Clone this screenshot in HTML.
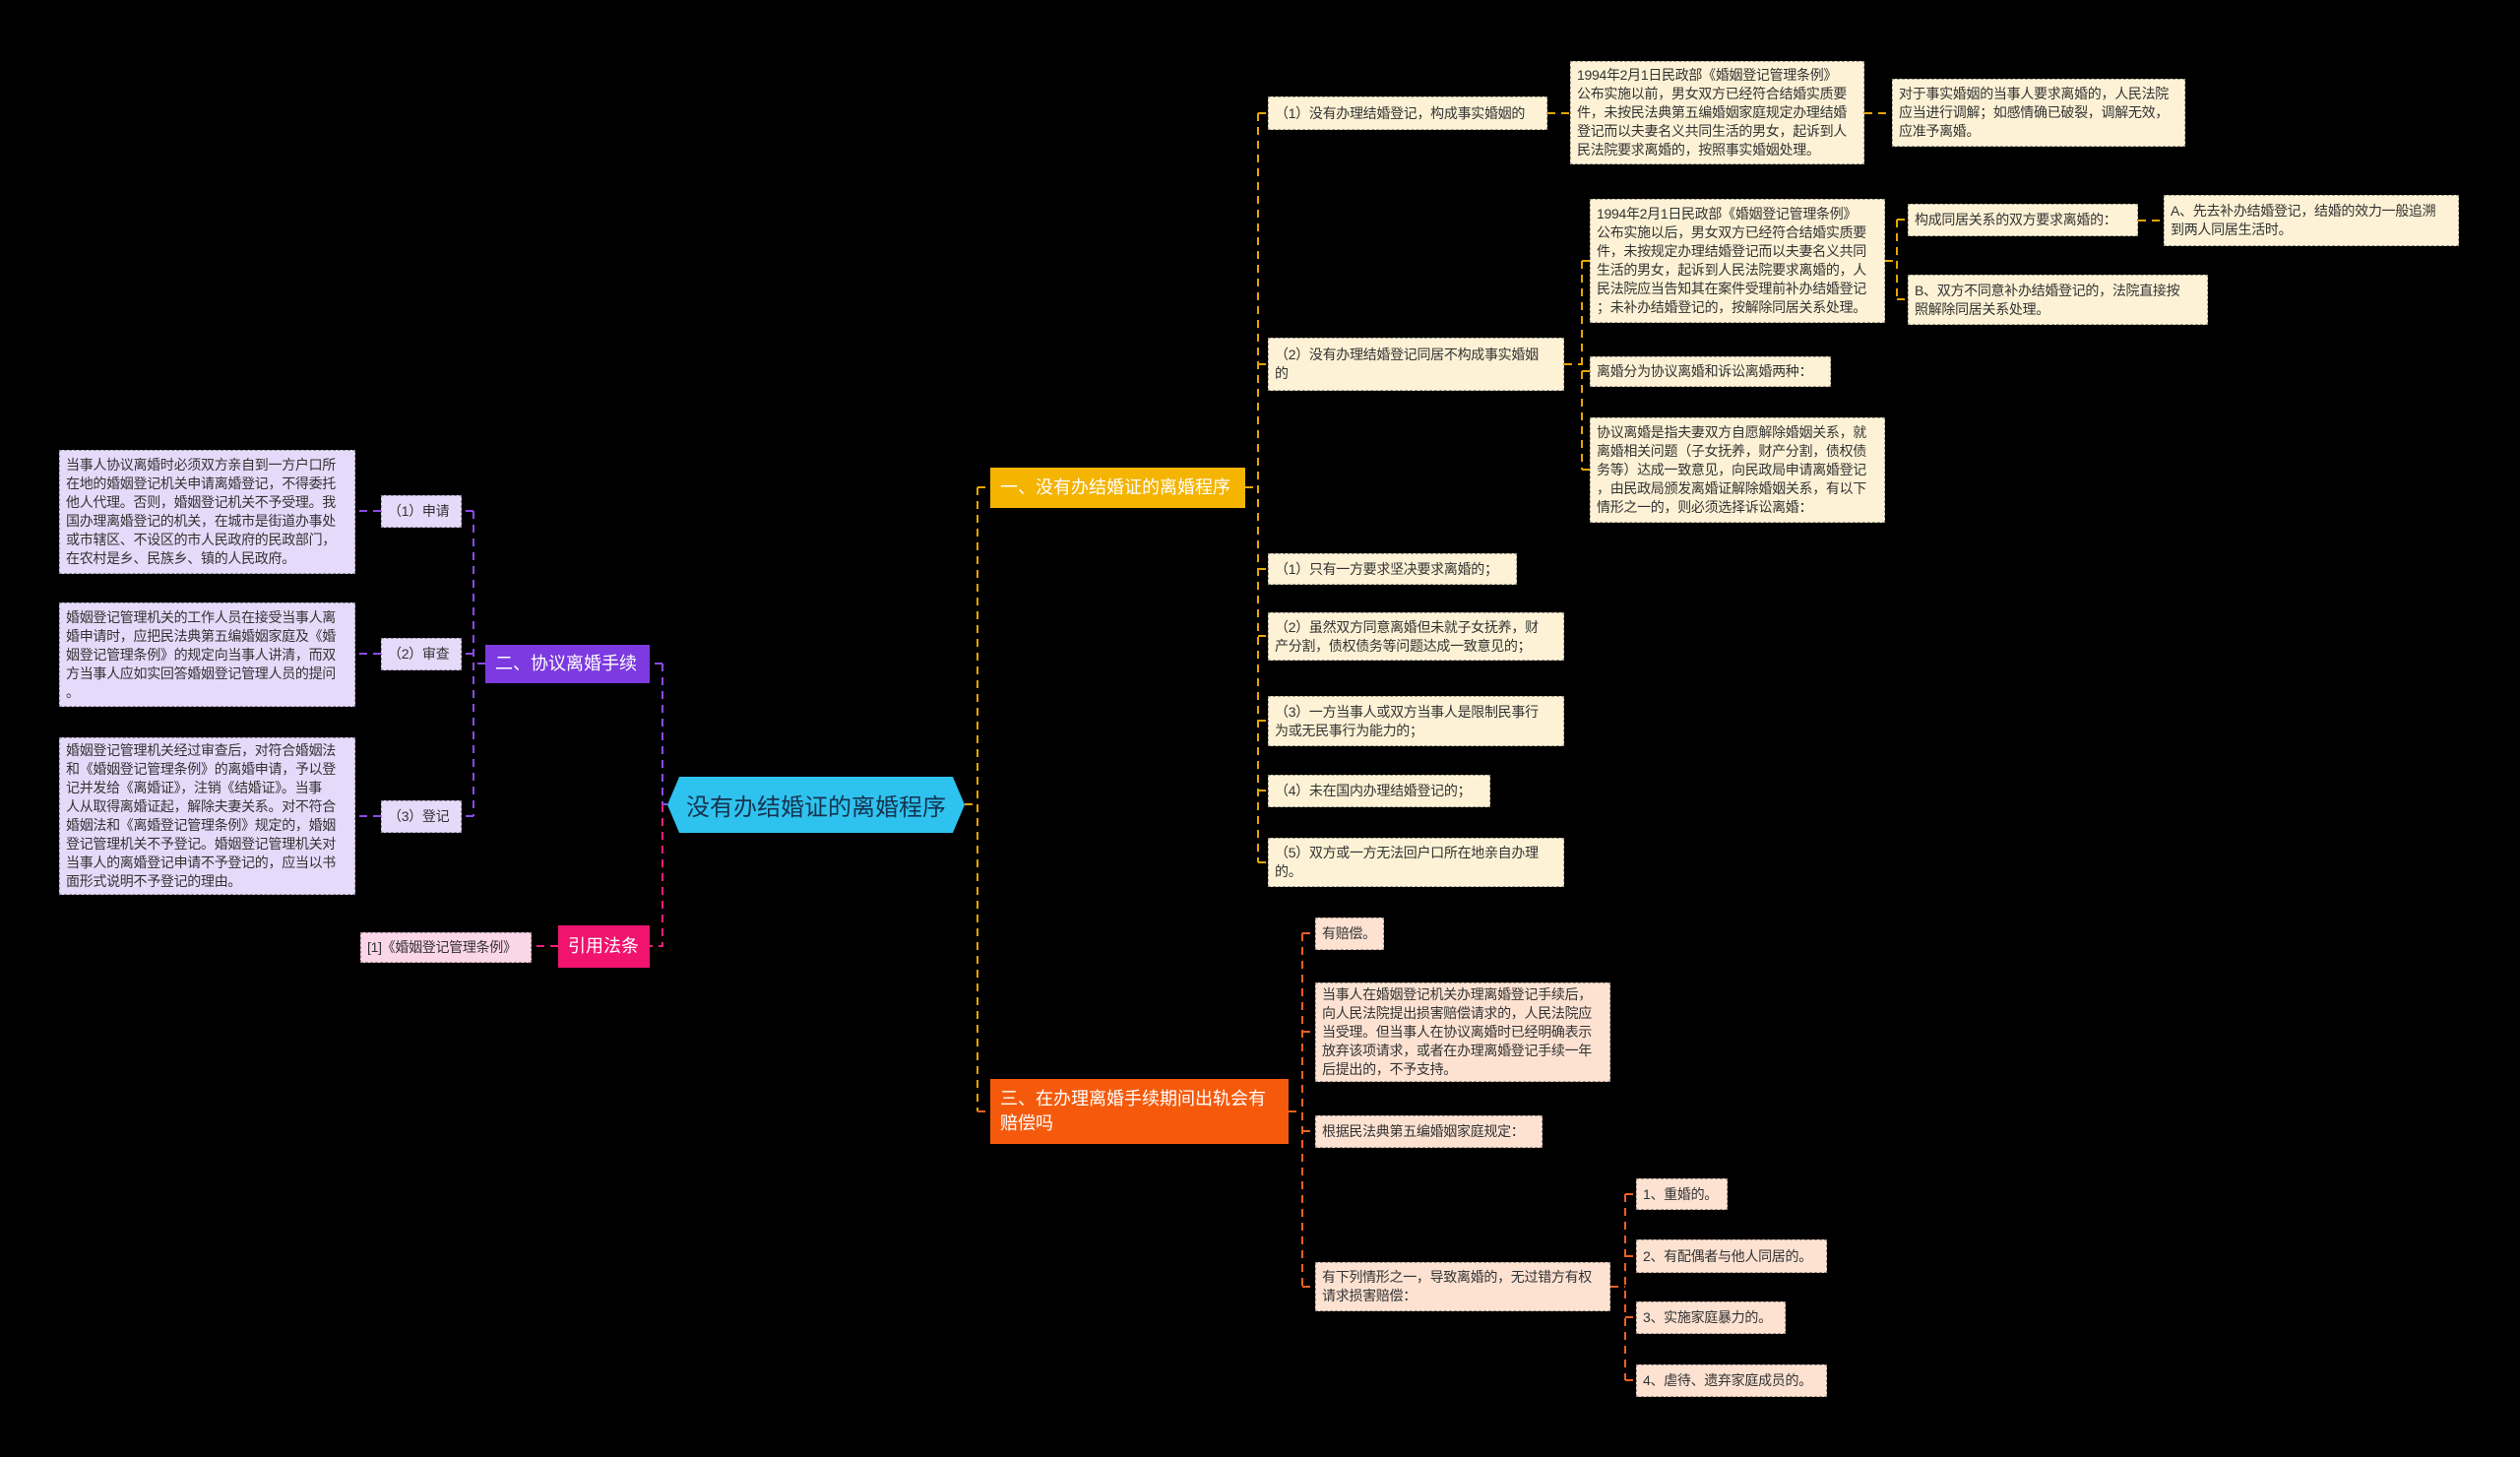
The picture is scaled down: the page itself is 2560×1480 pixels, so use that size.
<!DOCTYPE html>
<html><head><meta charset="utf-8"><style>
*{margin:0;padding:0;box-sizing:border-box}
body{width:2560px;height:1480px;background:#000;position:relative;overflow:hidden;font-family:"Liberation Sans","Noto Sans CJK SC",sans-serif}
.b{position:absolute;font-size:14px;line-height:19px;color:#333;padding:4px 6px;white-space:nowrap;display:flex;flex-direction:column;justify-content:center;border:1.5px dashed rgba(0,0,0,0.35);overflow:hidden;letter-spacing:-0.3px}
.y{background:#fdf2d5}
.p{background:#e6dafa}
.k{background:#fbd6e6}
.o{background:#fde2d2}
.m{position:absolute;color:#fff;font-size:18px;line-height:25px;padding:4px 10px;display:flex;flex-direction:column;justify-content:center;white-space:nowrap;overflow:hidden}
svg{position:absolute;left:0;top:0}
</style></head><body>
<svg width="2560" height="1480" fill="none" stroke-width="2" stroke-dasharray="8,6">
<g stroke="#e6a500">
<path d="M980 817H993M993 495V1129M993 495H1006"/>
<path d="M1265 495H1278M1278 115V876M1278 115H1288M1278 370H1288M1278 578H1288M1278 646H1288M1278 732H1288M1278 803H1288M1278 876H1288"/>
<path d="M1572 115H1595M1894 115H1922"/>
<path d="M1589 370H1607M1607 265V477M1607 265H1615M1607 377H1615M1607 477H1615"/>
<path d="M1915 265H1927M1927 223V304M1927 223H1938M1927 304H1938M2172 224H2198"/>
</g>
<g stroke="#f06020">
<path d="M993 1129H1006M1309 1129H1323M1323 948V1307M1323 948H1336M1323 1048H1336M1323 1149H1336M1323 1307H1336"/>
<path d="M1636 1307H1651M1651 1213V1402M1651 1213H1662M1651 1276H1662M1651 1338H1662M1651 1402H1662"/>
</g>
<g stroke="#8a4ae8">
<path d="M678 817H673M673 674V817M673 674H660"/>
<path d="M493 674H481M481 519V829M481 519H469M481 664H469M481 829H469M387 519H361M387 664H361M387 829H361"/>
</g>
<g stroke="#e8207a">
<path d="M673 817V961H660M567 961H540"/>
</g>
</svg>

<div style="position:absolute;left:678px;top:789px;width:302px;height:57px;background:#2ec3ef;clip-path:polygon(4% 0,96% 0,100% 50%,96% 100%,4% 100%,0 50%);display:flex;align-items:center;justify-content:center;font-size:24px;color:#16334f">没有办结婚证的离婚程序</div>

<div class="m" style="left:1006px;top:475px;width:259px;height:41px;background:#f5b400;color:#fff">一、没有办结婚证的离婚程序</div>
<div class="m" style="left:1006px;top:1096px;width:303px;height:66px;background:#f55a0c">三、在办理离婚手续期间出轨会有<br>赔偿吗</div>
<div class="m" style="left:493px;top:655px;width:167px;height:39px;background:#7c3ae0">二、协议离婚手续</div>
<div class="m" style="left:567px;top:940px;width:93px;height:43px;background:#f0146e">引用法条</div>

<div class="b p" style="left:60px;top:457px;width:301px;height:126px">当事人协议离婚时必须双方亲自到一方户口所<br>在地的婚姻登记机关申请离婚登记，不得委托<br>他人代理。否则，婚姻登记机关不予受理。我<br>国办理离婚登记的机关，在城市是街道办事处<br>或市辖区、不设区的市人民政府的民政部门，<br>在农村是乡、民族乡、镇的人民政府。</div>
<div class="b p" style="left:387px;top:503px;width:82px;height:33px">（1）申请</div>
<div class="b p" style="left:60px;top:612px;width:301px;height:106px">婚姻登记管理机关的工作人员在接受当事人离<br>婚申请时，应把民法典第五编婚姻家庭及《婚<br>姻登记管理条例》的规定向当事人讲清，而双<br>方当事人应如实回答婚姻登记管理人员的提问<br>。</div>
<div class="b p" style="left:387px;top:648px;width:82px;height:33px">（2）审查</div>
<div class="b p" style="left:60px;top:749px;width:301px;height:160px">婚姻登记管理机关经过审查后，对符合婚姻法<br>和《婚姻登记管理条例》的离婚申请，予以登<br>记并发给《离婚证》，注销《结婚证》。当事<br>人从取得离婚证起，解除夫妻关系。对不符合<br>婚姻法和《离婚登记管理条例》规定的，婚姻<br>登记管理机关不予登记。婚姻登记管理机关对<br>当事人的离婚登记申请不予登记的，应当以书<br>面形式说明不予登记的理由。</div>
<div class="b p" style="left:387px;top:813px;width:82px;height:33px">（3）登记</div>
<div class="b k" style="left:366px;top:947px;width:174px;height:31px">[1]《婚姻登记管理条例》</div>

<div class="b y" style="left:1288px;top:98px;width:284px;height:34px">（1）没有办理结婚登记，构成事实婚姻的</div>
<div class="b y" style="left:1595px;top:62px;width:299px;height:105px">1994年2月1日民政部《婚姻登记管理条例》<br>公布实施以前，男女双方已经符合结婚实质要<br>件，未按民法典第五编婚姻家庭规定办理结婚<br>登记而以夫妻名义共同生活的男女，起诉到人<br>民法院要求离婚的，按照事实婚姻处理。</div>
<div class="b y" style="left:1922px;top:80px;width:298px;height:69px">对于事实婚姻的当事人要求离婚的，人民法院<br>应当进行调解；如感情确已破裂，调解无效，<br>应准予离婚。</div>
<div class="b y" style="left:1288px;top:343px;width:301px;height:54px">（2）没有办理结婚登记同居不构成事实婚姻<br>的</div>
<div class="b y" style="left:1615px;top:202px;width:300px;height:126px">1994年2月1日民政部《婚姻登记管理条例》<br>公布实施以后，男女双方已经符合结婚实质要<br>件，未按规定办理结婚登记而以夫妻名义共同<br>生活的男女，起诉到人民法院要求离婚的，人<br>民法院应当告知其在案件受理前补办结婚登记<br>；未补办结婚登记的，按解除同居关系处理。</div>
<div class="b y" style="left:1938px;top:207px;width:234px;height:33px">构成同居关系的双方要求离婚的：</div>
<div class="b y" style="left:2198px;top:198px;width:300px;height:52px">A、先去补办结婚登记，结婚的效力一般追溯<br>到两人同居生活时。</div>
<div class="b y" style="left:1938px;top:279px;width:305px;height:51px">B、双方不同意补办结婚登记的，法院直接按<br>照解除同居关系处理。</div>
<div class="b y" style="left:1615px;top:362px;width:245px;height:31px">离婚分为协议离婚和诉讼离婚两种：</div>
<div class="b y" style="left:1615px;top:424px;width:300px;height:107px">协议离婚是指夫妻双方自愿解除婚姻关系，就<br>离婚相关问题（子女抚养，财产分割，债权债<br>务等）达成一致意见，向民政局申请离婚登记<br>，由民政局颁发离婚证解除婚姻关系，有以下<br>情形之一的，则必须选择诉讼离婚：</div>
<div class="b y" style="left:1288px;top:562px;width:253px;height:32px">（1）只有一方要求坚决要求离婚的；</div>
<div class="b y" style="left:1288px;top:622px;width:301px;height:49px">（2）虽然双方同意离婚但未就子女抚养，财<br>产分割，债权债务等问题达成一致意见的；</div>
<div class="b y" style="left:1288px;top:707px;width:301px;height:51px">（3）一方当事人或双方当事人是限制民事行<br>为或无民事行为能力的；</div>
<div class="b y" style="left:1288px;top:787px;width:226px;height:33px">（4）未在国内办理结婚登记的；</div>
<div class="b y" style="left:1288px;top:851px;width:301px;height:50px">（5）双方或一方无法回户口所在地亲自办理<br>的。</div>

<div class="b o" style="left:1336px;top:932px;width:70px;height:33px">有赔偿。</div>
<div class="b o" style="left:1336px;top:998px;width:300px;height:101px">当事人在婚姻登记机关办理离婚登记手续后，<br>向人民法院提出损害赔偿请求的，人民法院应<br>当受理。但当事人在协议离婚时已经明确表示<br>放弃该项请求，或者在办理离婚登记手续一年<br>后提出的，不予支持。</div>
<div class="b o" style="left:1336px;top:1133px;width:231px;height:33px">根据民法典第五编婚姻家庭规定：</div>
<div class="b o" style="left:1336px;top:1282px;width:300px;height:50px">有下列情形之一，导致离婚的，无过错方有权<br>请求损害赔偿：</div>
<div class="b o" style="left:1662px;top:1197px;width:93px;height:32px">1、重婚的。</div>
<div class="b o" style="left:1662px;top:1259px;width:194px;height:34px">2、有配偶者与他人同居的。</div>
<div class="b o" style="left:1662px;top:1322px;width:152px;height:33px">3、实施家庭暴力的。</div>
<div class="b o" style="left:1662px;top:1386px;width:194px;height:33px">4、虐待、遗弃家庭成员的。</div>
</body></html>
